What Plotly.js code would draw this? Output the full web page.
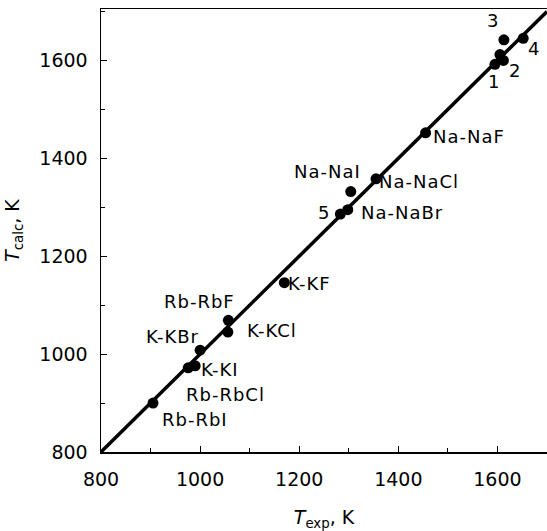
<!DOCTYPE html>
<html>
<head>
<meta charset="utf-8">
<script src="https://cdn.plot.ly/plotly-3.0.1.min.js"></script>
<style>
html,body{margin:0;padding:0;background:#fff;}
#chart{width:547px;height:531px;}
.annotation-text{letter-spacing:1px;}
</style>
</head>
<body>
<div id="chart"></div>
<script>
// Experimental vs calculated critical temperatures (K)
var texp  = [905, 976, 990, 1000, 1056, 1057, 1170, 1283, 1298, 1304, 1355, 1455, 1595, 1612, 1605, 1613, 1652];
var tcalc = [900, 972, 976, 1008, 1045, 1069, 1146, 1286, 1295, 1332, 1358, 1452, 1592, 1600, 1612, 1642, 1645];

// Ideal line T_calc = T_exp
var lineX = [800, 1700];
var lineY = [800, 1700];

// Labels
var labelText = ["Rb-RbI", "Rb-RbCl", "K-KI", "K-KBr", "K-KCl", "Rb-RbF", "K-KF", "5", "Na-NaBr", "Na-NaI", "Na-NaCl", "Na-NaF", "1", "2", "3", "4"];
var labelX    = [990, 1052, 1040, 944, 1145, 998, 1220, 1250, 1408, 1258, 1442, 1542, 1594, 1636, 1591, 1673];
var labelY    = [866, 917, 968, 1036, 1048, 1108, 1145, 1290, 1290, 1374, 1352, 1445, 1557, 1580, 1682, 1624];

var xTickVals = [800, 1000, 1200, 1400, 1600];
var yTickVals = [800, 1000, 1200, 1400, 1600];

var font = "DejaVu Sans, Verdana, sans-serif";

var traces = [
  {x: lineX, y: lineY, mode: "lines", line: {color: "#000", width: 3.5}, hoverinfo: "skip"},
  {x: texp, y: tcalc, mode: "markers", marker: {color: "#000", size: 11}}
];

var annotations = labelText.map(function (t, i) {
  return {x: labelX[i], y: labelY[i], text: t, showarrow: false, xref: "x", yref: "y",
          font: {family: font, size: 18, color: "#000"}};
});

var layout = {
  width: 547, height: 531,
  margin: {l: 101, r: 0, t: 9, b: 79},
  paper_bgcolor: "#fff", plot_bgcolor: "#fff",
  showlegend: false,
  font: {family: font, color: "#000", size: 19},
  xaxis: {
    range: [800, 1700], tickvals: xTickVals, ticks: "inside", ticklen: 6, tickcolor: "#000",
    showgrid: false, zeroline: false, showline: true, linecolor: "#000", linewidth: 1.5,
    mirror: true, ticklabelstandoff: 10,
    tickfont: {family: font, size: 19},
    minor: {dtick: 100, tick0: 800, ticks: "inside", ticklen: 4, tickcolor: "#000"},
    title: {text: "<i>T</i><sub>exp</sub>, K", font: {family: font, size: 19}, standoff: 26}
  },
  yaxis: {
    range: [800, 1705], tickvals: yTickVals, ticks: "inside", ticklen: 6, tickcolor: "#000",
    showgrid: false, zeroline: false, showline: true, linecolor: "#000", linewidth: 1.5,
    mirror: true, ticklabelstandoff: 8,
    tickfont: {family: font, size: 19},
    minor: {dtick: 100, tick0: 800, ticks: "inside", ticklen: 4, tickcolor: "#000"},
    title: {text: "<i>T</i><sub>calc</sub>, K", font: {family: font, size: 19}, standoff: 14}
  },
  annotations: annotations
};

Plotly.newPlot("chart", traces, layout, {displayModeBar: false, staticPlot: true});
</script>
</body>
</html>
